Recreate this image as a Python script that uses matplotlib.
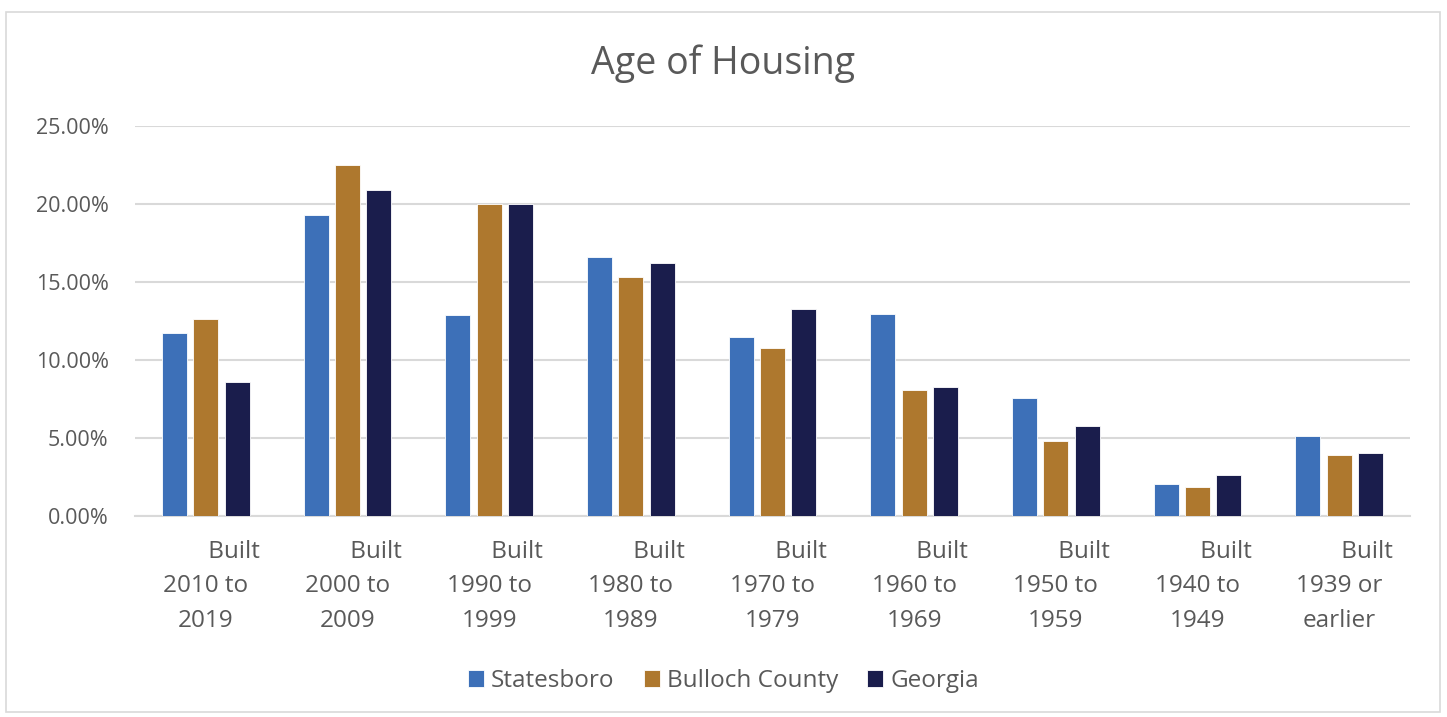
import matplotlib.pyplot as plt
import numpy as np
from matplotlib.patches import Rectangle
from matplotlib.ticker import FuncFormatter

# values (percent of housing units)
categories = ["2010 to\n2019", "2000 to\n2009", "1990 to\n1999", "1980 to\n1989",
              "1970 to\n1979", "1960 to\n1969", "1950 to\n1959", "1940 to\n1949",
              "1939 or\nearlier"]
statesboro = [11.7, 19.3, 12.9, 16.6, 11.45, 12.95, 7.55, 2.05, 5.15]
bulloch = [12.6, 22.5, 20.0, 15.3, 10.8, 8.05, 4.8, 1.85, 3.9]
georgia = [8.6, 20.9, 20.0, 16.2, 13.3, 8.3, 5.75, 2.6, 4.05]
series_names = ["Statesboro", "Bulloch County", "Georgia"]

colors = ["#3d70b8", "#ae782e", "#1a1d4c"]
txt = "#595959"
grid = "#d9d9d9"

plt.rcParams['font.family'] = ['Open Sans', 'DejaVu Sans']

fig = plt.figure(figsize=(14.47, 7.17), dpi=100)
ax = fig.add_axes([135/1447, 1 - 516/717, 1275/1447, 390/717])

x = np.arange(len(categories))
off = 0.222
w = 0.176
for i, vals in enumerate([statesboro, bulloch, georgia]):
    ax.bar(x + (i - 1) * off, vals, width=w, color=colors[i],
           edgecolor="white", linewidth=0.6, label=series_names[i], zorder=3)

ax.set_xlim(-0.5, len(categories) - 0.5)
ax.set_ylim(0, 25)
ax.set_yticks(np.arange(0, 25.1, 5))
ax.yaxis.set_major_formatter(FuncFormatter(lambda v, p: "%.2f%%" % v))
ax.grid(axis="y", color=grid, linewidth=1.5, zorder=0)
for s in ["top", "right", "left"]:
    ax.spines[s].set_visible(False)
ax.spines["bottom"].set_color(grid)
ax.spines["bottom"].set_linewidth(1.5)
ax.tick_params(axis="both", length=0, colors=txt)
ax.tick_params(axis="y", pad=19, labelsize=15.5)

ax.set_xticks(x)
ax.set_xticklabels(["         Built\n" + c for c in categories], linespacing=1.6,
                   multialignment="center")
ax.tick_params(axis="x", pad=17, labelsize=17.5)

fig.text(0.5, 1 - 64/717, "Age of Housing", ha="center", va="center",
         fontsize=27, color=txt)

leg = fig.legend(loc="center", bbox_to_anchor=(0.5, 1 - 681/717), ncol=3,
                 frameon=False, fontsize=17.5, handlelength=0.65, handleheight=0.65,
                 handletextpad=0.3, columnspacing=1.2)
for t in leg.get_texts():
    t.set_color(txt)

fig.patches.append(Rectangle((6/1447, 1 - 712/717), 1434/1447, 700/717,
                             transform=fig.transFigure, fill=False,
                             edgecolor=grid, linewidth=1.2))

fig.savefig("out.png", dpi=100)
